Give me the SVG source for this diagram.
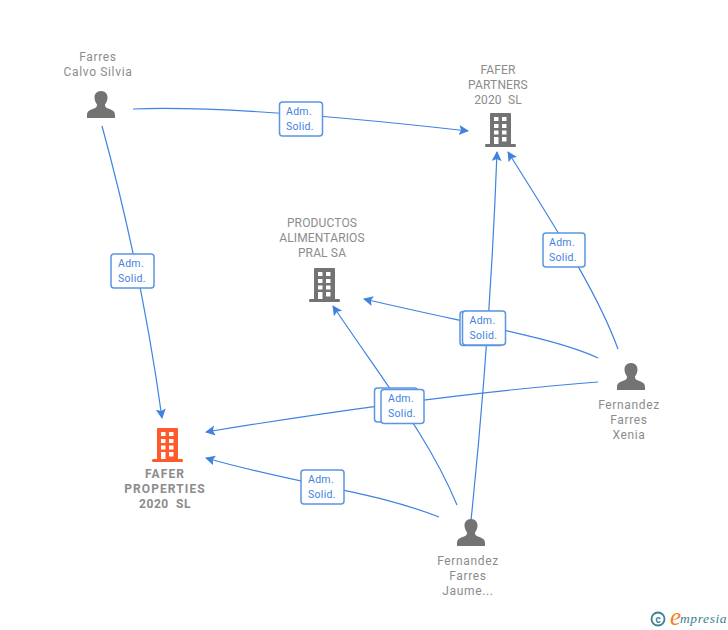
<svg xmlns="http://www.w3.org/2000/svg" width="728" height="630" viewBox="0 0 728 630">
<style>
text{font-family:Roboto,"Liberation Sans",Arial,sans-serif}
.n{font-size:12px;fill:#8c8c8c;text-anchor:middle;letter-spacing:.65px}
.u{letter-spacing:.15px}
.b{font-weight:700;letter-spacing:1.1px}
.l{font-size:10.5px;fill:#3f83e0;letter-spacing:.3px}
.c{fill:none;stroke:#3f83e0;stroke-width:1.2;marker-end:url(#a)}
.r{fill:#fff;stroke:#5b95e2;stroke-width:1.5}
.g{fill:#737373}
.o{fill:#ff5a2b}
.w{fill:#fff}
</style>
<defs>
<marker id="a" markerUnits="userSpaceOnUse" markerWidth="12" markerHeight="12" refX="9" refY="5" orient="auto"><path d="M0 0L10 5L0 10L2 5Z" fill="#3f83e0"/></marker>
<g id="bld"><path d="M5 1Q5 0 6 0H25Q26 0 26 1V31H30Q31 31 31 32.500Q31 34 30 34H1Q0 34 0 32.500Q0 31 1 31H5Z"/><path class="w" d="M9 4h4.500v4H9zM17 4h4.500v4H17zM9 11h4.500v4H9zM17 11h4.500v4H17zM9 17.500h4.500v4H9zM17 17.500h4.500v4H17zM9 24h4.500v7H9zM17 24h4.500v4.500H17z"/></g>
<path id="per" d="M14 0C9.500 0 7.500 3 7.500 6.500C7.500 10 9 12 10 13.500C10 15.500 9.500 16.500 7 17.500C3 19 0 20 0 24V27H28V24C28 20 25 19 21 17.500C18.500 16.500 18 15.500 18 13.500C19 12 20.500 10 20.500 6.500C20.500 3 18.500 0 14 0Z"/>
</defs>
<g id="connectors">
<path class="c" d="M133 109Q240 105 468 131"/>
<path class="c" d="M102 126Q142 272 162 418"/>
<path class="c" d="M618 349C600 300 570 250 508 152"/>
<path class="c" d="M598 358C555 338 480 326 364 299"/>
<path class="c" d="M598 382Q430 395 206 432"/>
<path class="c" d="M470 530Q490 341 497 152"/>
<path class="c" d="M457 505C430 440 390 390 333 306"/>
<path class="c" d="M439 517C370 490 300 485 206 458"/>
</g>
<g id="label-1"><rect class="r" x="279.500" y="102" width="43" height="34" rx="3"/><text class="l" x="286" y="115">Adm.</text><text class="l" x="286" y="130">Solid.</text></g>
<g id="label-2"><rect class="r" x="111" y="254" width="43" height="34" rx="3"/><text class="l" x="118" y="267">Adm.</text><text class="l" x="118" y="282">Solid.</text></g>
<g id="label-3"><rect class="r" x="543" y="233" width="42" height="34" rx="3"/><text class="l" x="549" y="246">Adm.</text><text class="l" x="549" y="261">Solid.</text></g>
<g id="label-4"><rect class="r" x="460" y="311.500" width="43" height="34" rx="3"/><rect class="r" x="462.500" y="311" width="43" height="34" rx="3"/><text class="l" x="469.500" y="324">Adm.</text><text class="l" x="469.500" y="339">Solid.</text></g>
<g id="label-5"><rect class="r" x="374.500" y="388" width="43" height="34" rx="3"/><rect class="r" x="381" y="389.500" width="43" height="34" rx="3"/><text class="l" x="388" y="402">Adm.</text><text class="l" x="388" y="417">Solid.</text></g>
<g id="label-6"><rect class="r" x="301" y="470" width="43" height="34" rx="3"/><text class="l" x="308" y="483">Adm.</text><text class="l" x="308" y="498">Solid.</text></g>
<g id="farres-silvia"><text class="n" x="98" y="61">Farres</text><text class="n" x="98" y="76">Calvo Silvia</text><use href="#per" class="g" x="87" y="91"/></g>
<g id="fafer-partners"><text class="n u" x="498" y="74">FAFER</text><text class="n u" x="498" y="89">PARTNERS</text><text class="n u" x="498" y="104" xml:space="preserve">2020  SL</text><use href="#bld" class="g" x="485" y="113"/></g>
<g id="productos"><text class="n u" x="322" y="227">PRODUCTOS</text><text class="n u" x="322" y="242">ALIMENTARIOS</text><text class="n u" x="322" y="257">PRAL SA</text><use href="#bld" class="g" x="309" y="268"/></g>
<g id="fafer-properties"><use href="#bld" class="o" x="152" y="428"/><text class="n b" x="165" y="478">FAFER</text><text class="n b" x="165" y="493">PROPERTIES</text><text class="n b" x="165" y="508" xml:space="preserve" style="letter-spacing:.6px">2020  SL</text></g>
<g id="xenia"><use href="#per" class="g" x="617" y="363"/><text class="n" x="629" y="409">Fernandez</text><text class="n" x="629" y="424">Farres</text><text class="n" x="629" y="439">Xenia</text></g>
<g id="jaume"><use href="#per" class="g" x="457" y="519"/><text class="n" x="468" y="565">Fernandez</text><text class="n" x="468" y="580">Farres</text><text class="n" x="468" y="595">Jaume...</text></g>
<g id="logo"><circle cx="658" cy="619" r="6.500" fill="none" stroke="#3d7f92" stroke-width="1.800"/><text x="658" y="622.500" font-size="10" font-weight="700" fill="#3d7f92" text-anchor="middle">c</text><text x="670" y="625" font-size="25" font-style="italic" fill="#f58220" style="font-family:'Liberation Serif',serif">e</text><text x="680" y="623" font-size="13.500" font-style="italic" fill="#3d7f92" style="font-family:'Liberation Serif',serif" letter-spacing=".6">mpresia</text></g>
</svg>
